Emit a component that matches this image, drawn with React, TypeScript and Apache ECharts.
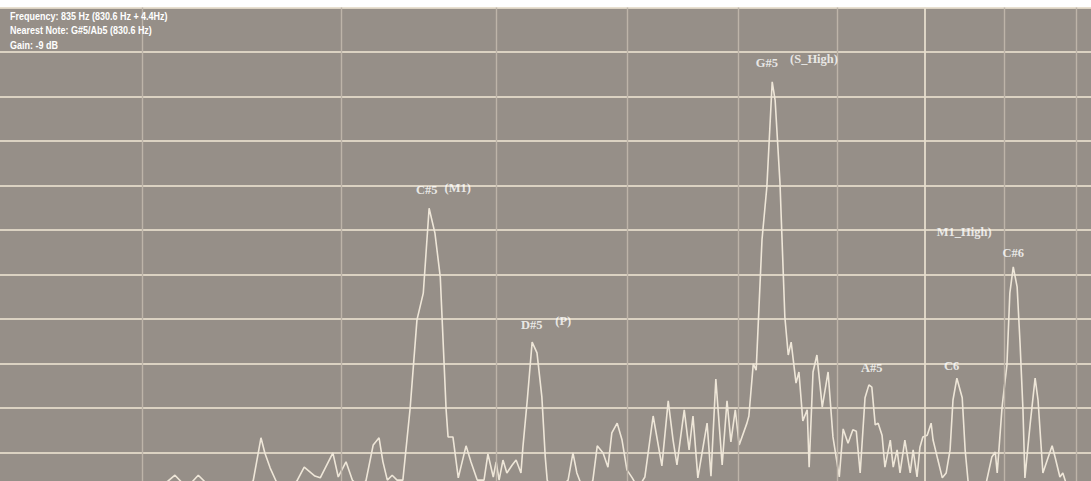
import React, { useEffect, useRef } from "react";
import * as echarts from "echarts";

// Spectrum trace: x = pitch (MIDI semitones, log-frequency), y = level (dB)
const spectrumPitch = [
  64.15, 67.24, 67.61, 67.75, 67.88, 68.0, 68.12, 68.23, 68.35, 68.47, 68.78, 69.09, 69.36, 69.52, 69.6, 69.71,
  69.83, 70.02, 70.26, 70.41, 70.63, 70.74, 71.0, 71.11, 71.27, 71.4, 71.52, 71.68, 71.83, 71.95, 72.03, 72.12,
  72.22, 72.32, 72.44, 72.59, 72.73, 72.86, 72.98, 73.1, 73.21, 73.33, 73.37, 73.47, 73.58, 73.74, 73.84, 73.97,
  74.11, 74.19, 74.3, 74.36, 74.42, 74.5, 74.58, 74.69, 74.77, 74.87, 74.91, 75.0, 75.1, 75.2, 75.3, 75.37,
  75.41, 75.51, 75.67, 75.84, 75.94, 76.02, 76.09, 76.29, 76.35, 76.44, 76.56, 76.66, 76.74, 76.85, 76.95, 77.05,
  77.16, 77.28, 77.42, 77.59, 77.77, 77.9, 78.0, 78.08, 78.23, 78.33, 78.41, 78.51, 78.7, 78.78, 78.88, 79.01,
  79.11, 79.19, 79.28, 79.36, 79.52, 79.56, 79.65, 79.71, 79.83, 79.93, 80.04, 80.1, 80.2, 80.3, 80.37, 80.43,
  80.53, 80.59, 80.67, 80.76, 80.8, 80.88, 80.96, 81.07, 81.19, 81.29, 81.42, 81.5, 81.6, 81.7, 81.77, 81.85,
  81.95, 82.03, 82.09, 82.16, 82.22, 82.3, 82.36, 82.47, 82.53, 82.61, 82.67, 82.77, 82.88, 82.94, 83.02, 83.08,
  83.14, 83.23, 83.31, 83.35, 83.45, 83.54, 83.62, 83.7, 83.76, 83.84, 83.95, 84.01, 84.07, 84.21, 84.42, 84.56,
  84.63, 84.67, 84.77, 84.87, 84.93, 85.0, 85.08, 85.14, 85.2, 85.24, 85.35, 85.45, 85.51, 85.61, 85.7, 85.8,
  85.86, 85.96, 86.02, 86.13, 86.6,
];
const spectrumLevel = [
  -109.0, -108.9, -106.4, -105.1, -106.6, -108.4, -106.4, -105.1, -106.4, -108.4, -108.9, -108.0, -106.4, -96.7, -100.1, -103.5,
  -106.4, -108.4, -106.4, -103.3, -105.3, -105.7, -100.1, -105.5, -102.1, -106.2, -107.5, -106.4, -98.3, -96.7, -102.1, -106.2,
  -105.1, -106.2, -106.2, -90.0, -70.2, -64.2, -45.1, -50.7, -60.6, -90.4, -96.5, -96.5, -105.7, -98.5, -102.1, -106.2,
  -106.2, -100.3, -105.5, -102.1, -106.2, -101.7, -104.6, -102.8, -101.7, -104.6, -98.8, -88.2, -75.2, -77.6, -87.5, -101.0,
  -106.2, -108.4, -108.0, -106.2, -100.1, -104.6, -106.6, -107.7, -106.2, -98.5, -100.1, -103.3, -95.6, -93.4, -97.2, -103.9,
  -105.7, -108.0, -105.5, -91.8, -103.0, -88.4, -97.2, -102.8, -90.4, -99.4, -91.8, -105.7, -93.4, -105.3, -83.5, -102.8,
  -88.4, -97.6, -90.4, -98.3, -93.4, -91.8, -80.1, -81.5, -52.2, -40.3, -16.7, -20.8, -39.4, -69.5, -78.1, -75.2,
  -84.4, -81.9, -92.9, -90.4, -103.3, -81.9, -78.1, -89.8, -81.9, -96.5, -105.5, -94.7, -97.9, -94.9, -95.2, -104.6,
  -87.7, -84.8, -85.3, -93.8, -93.4, -96.1, -103.3, -97.2, -103.3, -99.4, -104.6, -97.2, -104.6, -99.4, -105.5, -98.8,
  -96.5, -96.1, -93.4, -97.2, -101.7, -105.7, -104.6, -99.4, -88.2, -83.3, -87.7, -99.4, -106.4, -108.9, -108.0, -101.0,
  -99.9, -104.6, -89.8, -80.3, -64.2, -58.3, -62.8, -75.4, -90.4, -105.7, -93.4, -83.3, -88.2, -104.6, -101.7, -98.5,
  -101.0, -105.5, -104.6, -108.4, -108.9,
];

// Note annotations
const noteLabels = ["C#5", "(M1)", "D#5", "(P)", "G#5", "(S_High)", "A#5", "C6", "M1_High)", "C#6"];
const notePitch = [72.93, 73.57, 75.09, 75.74, 79.93, 80.9, 82.09, 83.73, 83.99, 85.0];
const noteLevel = [-41.1, -40.6, -71.3, -70.4, -12.4, -11.6, -80.9, -80.6, -50.4, -55.1];

// Vertical grid lines (400 Hz ... 1200 Hz), in pitch units; index 6 is the 1 kHz line
const gridPitch = [67.08, 71.17, 74.36, 77.05, 79.34, 81.37, 83.17, 84.81, 86.3];
const kiloHzIndex = 6;

const infoLines = [
  "Frequency: 835 Hz (830.6 Hz + 4.4Hz)",
  "Nearest Note: G#5/Ab5 (830.6 Hz)",
  "Gain: -9 dB",
];

export default function App() {
  const ref = useRef<HTMLDivElement>(null);

  useEffect(() => {
    if (!ref.current) return;
    const chart = echarts.init(ref.current, undefined, { renderer: "svg" });
    const option = {
      animation: false,
      backgroundColor: "#ffffff",
      grid: {
        left: 0,
        right: 0,
        top: 7.5,
        bottom: 0,
        show: true,
        backgroundColor: "#968f88",
        borderWidth: 0,
      },
      xAxis: {
        type: "value",
        min: 64.15,
        max: 86.6,
        axisLine: { show: false },
        axisTick: { show: false },
        axisLabel: { show: false },
        splitLine: { show: false },
      },
      yAxis: {
        type: "value",
        min: -110,
        max: 0,
        interval: 10,
        axisLine: { show: false },
        axisTick: { show: false },
        axisLabel: { show: false },
        splitLine: { show: true, lineStyle: { color: "#f2e8d6", width: 1.6 } },
      },
      series: [
        {
          type: "line",
          data: [],
          z: 1,
          markLine: {
            silent: true,
            symbol: ["none", "none"],
            label: { show: false },
            data: gridPitch.map((v, i) => ({
              xAxis: v,
              lineStyle: {
                color: i === kiloHzIndex ? "#e6ddcd" : "#bdb4a9",
                width: i === kiloHzIndex ? 1.8 : 1.4,
                type: "solid",
              },
            })),
          },
        },
        {
          type: "line",
          data: spectrumPitch.map((p, i) => [p, spectrumLevel[i]]),
          showSymbol: false,
          symbol: "none",
          z: 3,
          lineStyle: { color: "#eee6d8", width: 1.6 },
        },
        {
          type: "scatter",
          z: 5,
          data: notePitch.map((p, i) => [p, noteLevel[i], noteLabels[i]]),
          symbolSize: 1,
          itemStyle: { color: "rgba(0,0,0,0)" },
          label: {
            show: true,
            position: "inside",
            formatter: (p: any) => p.data[2],
            color: "#ffffff",
            fontFamily: "Liberation Serif",
            fontWeight: "bold",
            fontSize: 12.5,
          },
        },
      ],
      graphic: infoLines.map((t, i) => ({
        type: "text",
        x: 10,
        y: 16 + i * 14.5,
        scaleX: 0.9,
        z: 10,
        style: {
          text: t,
          fill: "#ffffff",
          font: 'bold 10px "Liberation Sans"',
          verticalAlign: "middle",
          textVerticalAlign: "middle",
        },
      })),
    };
    chart.setOption(option as any);
    return () => chart.dispose();
  }, []);

  return (
    <div
      style={{
        position: "fixed",
        left: 0,
        top: 0,
        width: 1091,
        height: 481,
        overflow: "hidden",
        background: "#ffffff",
      }}
    >
      <div ref={ref} style={{ width: 1091, height: 497 }} />
    </div>
  );
}
